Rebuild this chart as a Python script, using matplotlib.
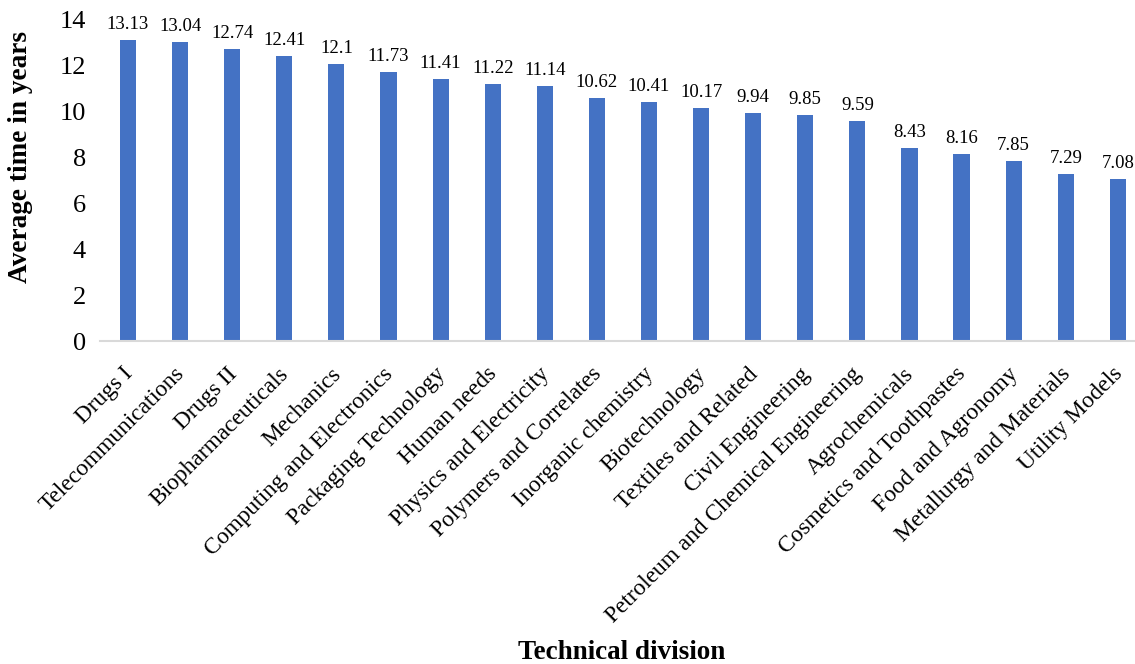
import matplotlib
matplotlib.use("Agg")
import matplotlib.pyplot as plt
import matplotlib.transforms as mtransforms

divisions = [
    "Drugs I", "Telecommunications", "Drugs II", "Biopharmaceuticals",
    "Mechanics", "Computing and Electronics", "Packaging Technology",
    "Human needs", "Physics and Electricity", "Polymers and Correlates",
    "Inorganic chemistry", "Biotechnology", "Textiles and Related",
    "Civil Engineering", "Petroleum and Chemical Engineering",
    "Agrochemicals", "Cosmetics and Toothpastes", "Food and Agronomy",
    "Metallurgy and Materials", "Utility Models",
]
avg_years = [13.13, 13.04, 12.74, 12.41, 12.1, 11.73, 11.41, 11.22, 11.14,
             10.62, 10.41, 10.17, 9.94, 9.85, 9.59, 8.43, 8.16, 7.85, 7.29, 7.08]
value_labels = ["13.13", "13.04", "12.74", "12.41", "12.1", "11.73", "11.41",
                "11.22", "11.14", "10.62", "10.41", "10.17", "9.94", "9.85",
                "9.59", "8.43", "8.16", "7.85", "7.29", "7.08"]
y_ticks = [0, 2, 4, 6, 8, 10, 12, 14]

plt.rcParams["font.family"] = ["Liberation Serif", "DejaVu Serif"]

fig = plt.figure(figsize=(11.35, 6.64), dpi=100)
ax = fig.add_axes([0.088, 0.486, 0.912, 0.484])

x = list(range(len(divisions)))
bars = ax.bar(x, avg_years, width=0.31, color="#4472C4", zorder=2)

for rect, lab in zip(bars, value_labels):
    ax.annotate(lab, (rect.get_x() + rect.get_width() / 2, rect.get_height()),
                xytext=(0, 5), textcoords="offset points",
                ha="center", va="bottom", fontsize=13.5)

ax.set_xlim(-0.54, len(divisions) - 0.67)
ax.set_ylim(0, 14)
ax.set_yticks(y_ticks)
ax.tick_params(axis="y", length=0, labelsize=19, pad=10)
ax.set_xticks(x)
ax.set_xticklabels(divisions, rotation=45, ha="right", rotation_mode="anchor",
                   fontsize=16.8)
ax.tick_params(axis="x", length=0, pad=16)
shift = mtransforms.ScaledTranslation(-0.06, 0, fig.dpi_scale_trans)
for lbl in ax.get_xticklabels():
    lbl.set_transform(lbl.get_transform() + shift)

for side in ("top", "right", "left"):
    ax.spines[side].set_visible(False)
ax.spines["bottom"].set_color("#d9d9d9")
ax.spines["bottom"].set_linewidth(1.5)

ax.set_ylabel("Average time in years", fontsize=19.6, fontweight="bold")
ax.yaxis.set_label_coords(-0.065, 0.572)
fig.text(0.548, 0.018, "Technical division", ha="center", va="center",
         fontsize=19.5, fontweight="bold")

fig.savefig("out.png", dpi=100)
